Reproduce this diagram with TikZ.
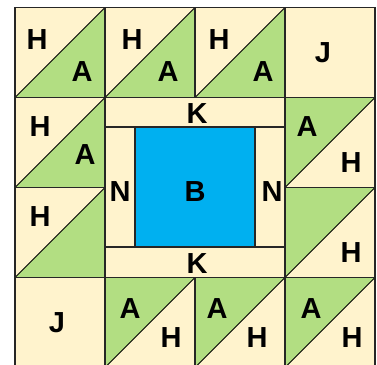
\documentclass[tikz,border=0pt]{standalone}
\usepackage{fontspec}
\setmainfont{Liberation Sans}
\definecolor{quiltcream}{HTML}{FFF3CD}
\definecolor{quiltgreen}{HTML}{B2DE82}
\definecolor{quiltblue}{HTML}{00B0F0}

\begin{document}
\begin{tikzpicture}[x=1pt,y=-1pt,
  patch/.style={font=\fontsize{29}{29}\selectfont\bfseries, inner sep=0pt},
  seam/.style={draw=black!85, line width=1.3pt},
  diag/.style={draw=black, line width=0.8pt}]

\useasboundingbox (0,0) rectangle (377,364);
\clip (0,0) rectangle (377,364);

% Cream background
\fill[quiltcream] (15,7.5) rectangle (375,367.5);

% Green half-square triangles, green at lower right
\foreach \x/\y in {15/7.5, 105/7.5, 195/7.5, 15/97.5, 15/187.5}
  \fill[quiltgreen] (\x+90,\y) -- (\x+90,\y+90) -- (\x,\y+90) -- cycle;

% Green half-square triangles, green at upper left
\foreach \x/\y in {285/97.5, 285/187.5, 105/277.5, 195/277.5, 285/277.5}
  \fill[quiltgreen] (\x,\y) -- (\x+90,\y) -- (\x,\y+90) -- cycle;

% Diagonals
\foreach \x/\y in {15/7.5, 105/7.5, 195/7.5, 15/97.5, 15/187.5,
                   285/97.5, 285/187.5, 105/277.5, 195/277.5, 285/277.5}
  \draw[diag] (\x,\y+90) -- (\x+90,\y);

% Centre square
\fill[quiltblue] (135,127) rectangle (255,247);

% Seams of the grid
\draw[seam] (15,7.5) rectangle (375,367.5);
\draw[seam] (105,7.5) -- (105,367.5);
\draw[seam] (285,7.5) -- (285,367.5);
\draw[seam] (195,7.5) -- (195,97.5);
\draw[seam] (195,277.5) -- (195,367.5);
\draw[seam] (15,97.5) -- (375,97.5);
\draw[seam] (15,277.5) -- (375,277.5);
\draw[seam] (15,187.5) -- (105,187.5);
\draw[seam] (285,187.5) -- (375,187.5);

% Seams of the centre
\draw[seam] (105,127) -- (285,127);
\draw[seam] (105,247) -- (285,247);
\draw[seam] (135,127) -- (135,247);
\draw[seam] (255,127) -- (255,247);

% Top row
\node[patch] (h1) at (37,40)  {H};
\node[patch] (a1) at (82,72)  {A};
\node[patch] (h2) at (132,40) {H};
\node[patch] (a2) at (168,72) {A};
\node[patch] (h3) at (219,40) {H};
\node[patch] (a3) at (263,72) {A};
\node[patch] (j1) at (323,53) {J};

% Second row
\node[patch] (h4) at (40,127) {H};
\node[patch] (a4) at (85,155) {A};
\node[patch] (k1) at (197,114) {K};
\node[patch] (a5) at (307,127) {A};
\node[patch] (h5) at (351,163) {H};

% Third row
\node[patch] (h6) at (40,217)  {H};
\node[patch] (n1) at (120,192) {N};
\node[patch] (b)  at (195,192) {B};
\node[patch] (n2) at (272,192) {N};
\node[patch] (h7) at (351,253) {H};
\node[patch] (k2) at (197,264) {K};

% Bottom row
\node[patch] (j2) at (57,323)  {J};
\node[patch] (a6) at (130,309) {A};
\node[patch] (h8) at (171,338) {H};
\node[patch] (a7) at (217,309) {A};
\node[patch] (h9) at (257,338) {H};
\node[patch] (a8) at (311,309) {A};
\node[patch] (h10) at (352,338) {H};

\end{tikzpicture}
\end{document}
